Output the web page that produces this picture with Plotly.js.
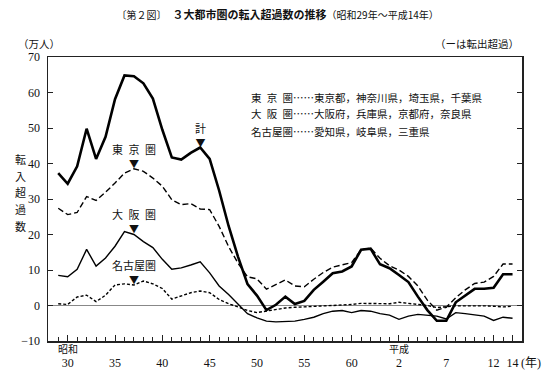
<!DOCTYPE html>
<html>
<head>
<meta charset="utf-8">
<script src="https://cdn.plot.ly/plotly-3.0.1.min.js"></script>
<style>html,body{margin:0;padding:0;background:#fff;}#chart{width:555px;height:383px;}</style>
</head>
<body>
<div id="chart"></div>
<script>
// Years: 昭和29年 (1954) ～ 平成14年 (2002)
const years = [];
for (let y = 1954; y <= 2002; y++) years.push(y);

// 計 (total of the three metropolitan areas), 万人
const total = [37.3, 34.3, 39.2, 49.8, 41.3, 47.5, 58.1, 64.8, 64.6, 62.6,
  58.3, 49.5, 41.7, 41.1, 43.0, 44.5, 41.3, 32.4, 22.4, 13.7,
  6.0, 2.8, -1.3, 0.2, 2.5, 0.4, 1.3, 4.4, 6.7, 9.1,
  9.6, 11.0, 15.7, 16.0, 11.6, 10.5, 8.6, 6.6, 2.5, -1.3,
  -4.3, -4.3, 0.9, 2.8, 4.7, 4.7, 5.0, 8.8, 8.8];
// 東京圏
const tokyo = [27.4, 25.6, 26.2, 30.7, 29.6, 31.9, 34.5, 37.3, 38.5, 37.8,
  35.9, 33.6, 29.8, 28.4, 28.7, 27.2, 27.0, 22.3, 16.6, 11.9,
  8.1, 7.5, 4.6, 5.8, 7.2, 5.5, 5.3, 7.4, 9.3, 10.8,
  11.5, 12.1, 15.7, 16.2, 13.3, 11.2, 10.0, 8.2, 5.5, 1.5,
  -1.3, -0.5, 2.2, 4.4, 6.2, 6.6, 8.2, 11.7, 11.7];
// 大阪圏
const osaka = [8.5, 8.1, 10.2, 15.8, 11.1, 13.4, 16.7, 20.8, 20.0, 18.0,
  16.3, 13.0, 10.2, 10.6, 11.4, 12.3, 9.2, 5.5, 3.1, 0.5,
  -2.3, -3.5, -4.4, -4.6, -4.6, -4.4, -3.9, -3.3, -2.3, -1.6,
  -1.4, -2.0, -1.4, -1.6, -2.3, -2.7, -3.9, -3.0, -2.5, -2.7,
  -3.0, -3.8, -2.0, -2.3, -2.7, -3.0, -4.2, -3.3, -3.6];
// 名古屋圏
const nagoya = [0.5, 0.3, 2.4, 2.9, 1.1, 2.9, 5.8, 6.1, 5.8, 6.9,
  6.1, 4.8, 1.8, 2.7, 3.6, 4.1, 3.6, 1.7, 0.5, -0.4,
  -1.4, -2.0, -1.6, -1.0, -0.7, -0.5, -0.3, -0.2, -0.1, 0.0,
  0.1, 0.3, 0.6, 0.6, 0.5, 0.5, 0.9, 0.6, 0.3, 0.0,
  -0.6, -0.3, -0.1, -0.1, 0.0, -0.1, -0.2, -0.4, -0.2];

// Tick labels
const tickYears = [1955, 1960, 1965, 1970, 1975, 1980, 1985, 1990, 1995, 2000, 2002];
const tickLabels = ['30', '35', '40', '45', '50', '55', '60', '2', '7', '12', '14'];

const legendLines = [
  '東\u2002京\u2002圏……東京都，神奈川県，埼玉県，千葉県',
  '大\u2002阪\u2002圏……大阪府，兵庫県，京都府，奈良県',
  '名古屋圏……愛知県，岐阜県，三重県'
];
const yTitleChars = ['転', '入', '超', '過', '数'];

const serif = '"Liberation Serif", "Noto Sans CJK JP", serif';
const jp = '"Noto Sans CJK JP", sans-serif';

// plot area in pixels
const L = 48, R = 522, T = 57, B = 341;
const px = x => (x - L) / (R - L);
const py = y => (B - y) / (B - T);

const traces = [
  {x: years, y: total, mode: 'lines', line: {color: '#000', width: 2.6}},
  {x: years, y: tokyo, mode: 'lines', line: {color: '#000', width: 1.4, dash: '6px,3px'}},
  {x: years, y: osaka, mode: 'lines', line: {color: '#000', width: 1.4}},
  {x: years, y: nagoya, mode: 'lines', line: {color: '#000', width: 1.4, dash: '3px,2px'}}
];

const ann = [];
function addText(text, x, y, opts) {
  ann.push(Object.assign({text: text, x: px(x), y: py(y), xref: 'paper', yref: 'paper',
    xanchor: 'center', yanchor: 'middle',
    showarrow: false, font: {family: jp, size: 11, color: '#111'}}, opts || {}));
}
addText('（万人）', 16, 44, {xanchor: 'left', font: {family: jp, size: 10.5, color: '#111'}});
addText('（ーは転出超過）', 521, 44, {xanchor: 'right', font: {family: jp, size: 10.5, color: '#111'}});
yTitleChars.forEach((c, i) => addText(c, 20, 159 + i * 16.7));
legendLines.forEach((t, i) => addText(t, 249, 97 + i * 17, {xanchor: 'left', font: {family: jp, size: 10.5, color: '#111'}}));
addText('昭和', 68, 348.5, {font: {family: jp, size: 10, color: '#111'}});
addText('平成', 399, 348.5, {font: {family: jp, size: 10, color: '#111'}});
addText('(年)', 519, 363, {xanchor: 'left', font: {family: serif, size: 12, color: '#111'}});

// series labels with ▼ pointers (data coordinates: centre of the label + pointer block)
const pointers = [
  {label: '東\u2002京\u2002圏', x: 1962, y: 42.2},
  {label: '大\u2002阪\u2002圏', x: 1962, y: 23.9},
  {label: '名古屋圏', x: 1962, y: 9.5},
  {label: '計', x: 1969, y: 48.1}
];
pointers.forEach(p => {
  ann.push({text: p.label + '<br><span style="font-size:10px">▼</span>', x: p.x, y: p.y,
    xref: 'x', yref: 'y', showarrow: false, xanchor: 'center', yanchor: 'middle',
    font: {family: jp, size: 11, color: '#111'}});
});

const layout = {
  width: 555, height: 383,
  margin: {l: L, r: 555 - R, t: T, b: 383 - B, pad: 0},
  paper_bgcolor: '#fff', plot_bgcolor: '#fff',
  showlegend: false,
  title: {
    text: '<span style="font-size:10px">〔第２図〕</span>\u3000<b>３大都市圏の転入超過数の推移</b><span style="font-size:10px">（昭和29年～平成14年）</span>',
    x: 0.21, xanchor: 'left', y: 0.96, yanchor: 'middle',
    font: {family: jp, size: 11, color: '#111'}
  },
  xaxis: {
    range: [1952.92, 2003.0], showgrid: false, zeroline: false,
    showline: true, linecolor: '#222', linewidth: 1.5, mirror: true,
    ticks: 'inside', ticklen: 6, tickwidth: 1, tickcolor: '#222',
    tickvals: tickYears, ticktext: tickLabels, ticklabelstandoff: 10,
    tickfont: {family: serif, size: 12, color: '#111'},
    minor: {ticks: 'inside', tick0: 1954, dtick: 1, ticklen: 4, tickwidth: 1, tickcolor: '#222'}
  },
  yaxis: {
    range: [-10, 70], dtick: 10, tick0: 0, showgrid: false,
    zeroline: true, zerolinecolor: '#888', zerolinewidth: 1.2,
    showline: true, linecolor: '#222', linewidth: 1.5, mirror: 'ticks',
    ticks: 'inside', ticklen: 5, tickwidth: 1, tickcolor: '#222',
    ticklabelstandoff: 4,
    tickfont: {family: serif, size: 12, color: '#111'}
  },
  annotations: ann
};

Plotly.newPlot('chart', traces, layout, {displayModeBar: false, staticPlot: true});
</script>
</body>
</html>
